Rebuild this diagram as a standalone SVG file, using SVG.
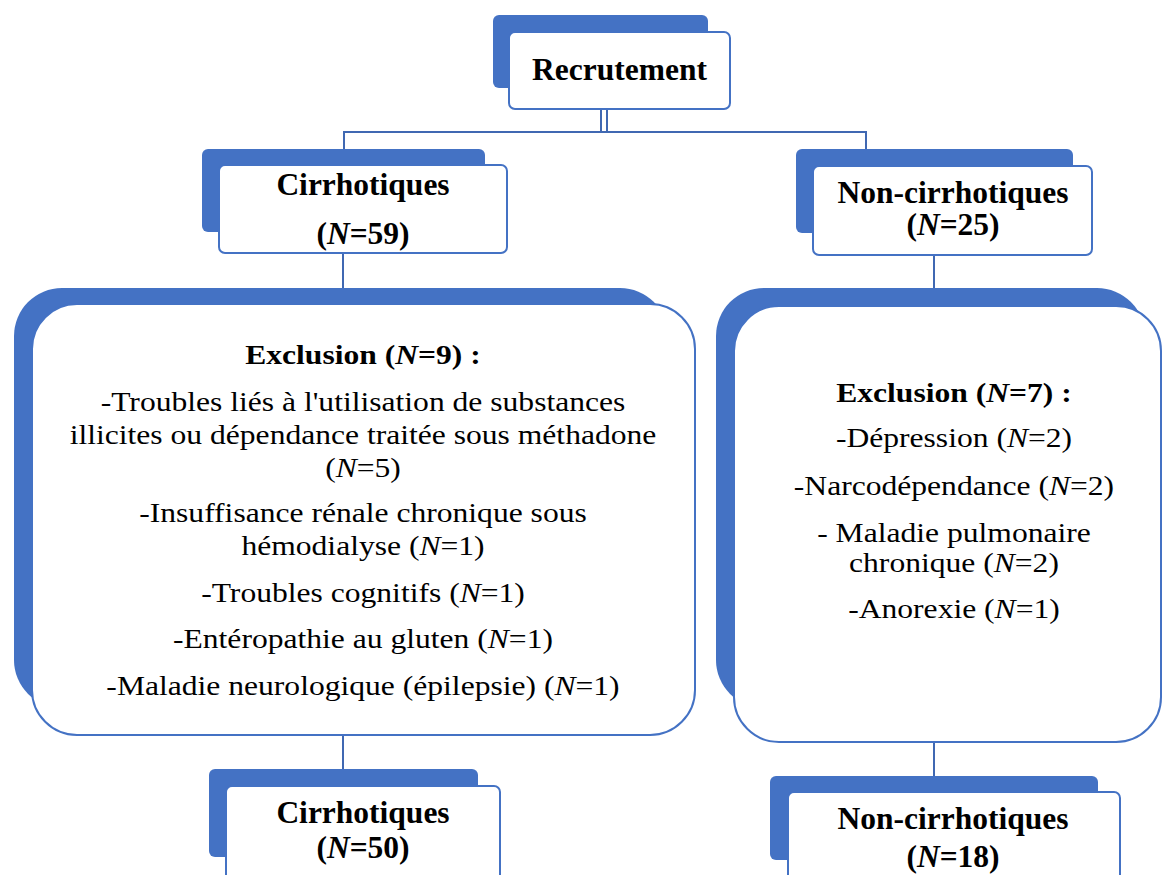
<svg xmlns="http://www.w3.org/2000/svg" width="1162" height="875" viewBox="0 0 1162 875">
  <style>
    .back { fill: #4472C4; }
    .front { fill: #FFFFFF; stroke: #4472C4; stroke-width: 2; }
    .link { stroke: #4068B2; stroke-width: 2; fill: none; }
    .title { font-family: "Liberation Serif", "Times New Roman", serif; font-weight: bold; font-size: 31.5px; fill: #000; text-anchor: middle; }
    .head { font-family: "Liberation Serif", "Times New Roman", serif; font-weight: bold; font-size: 27px; fill: #000; text-anchor: middle; }
    .body { font-family: "Liberation Serif", "Times New Roman", serif; font-size: 27px; fill: #000; text-anchor: middle; }
    .it { font-style: italic; }
  </style>

  <rect width="1162" height="875" fill="#FFFFFF"/>

  <!-- connectors -->
  <g id="connectors">
    <line class="link" x1="601" y1="109" x2="601" y2="132"/>
    <line class="link" x1="607" y1="109" x2="607" y2="132"/>
    <line class="link" x1="343" y1="132" x2="867" y2="132"/>
    <line class="link" x1="344" y1="132" x2="344" y2="149"/>
    <line class="link" x1="866" y1="132" x2="866" y2="149"/>
    <line class="link" x1="343" y1="253" x2="343" y2="288"/>
    <line class="link" x1="934" y1="255" x2="934" y2="288"/>
    <line class="link" x1="343" y1="735" x2="343" y2="769"/>
    <line class="link" x1="934" y1="742" x2="934" y2="776"/>
  </g>

  <!-- root -->
  <g id="recrutement">
    <rect class="back" x="493" y="15" width="215" height="73" rx="6"/>
    <rect class="front" x="509" y="32" width="221" height="77" rx="6"/>
    <text class="title" x="619.5" y="80">Recrutement</text>
  </g>

  <!-- first level -->
  <g id="cirrhotiques-59">
    <rect class="back" x="202" y="149" width="283" height="83" rx="6"/>
    <rect class="front" x="219" y="165" width="288" height="88" rx="6"/>
    <text class="title" x="363" y="195">Cirrhotiques</text>
    <text class="title" x="363" y="244">(<tspan class="it">N</tspan>=59)</text>
  </g>

  <g id="non-cirrhotiques-25">
    <rect class="back" x="796" y="149" width="277" height="84" rx="6"/>
    <rect class="front" x="813" y="166" width="279" height="89" rx="6"/>
    <text class="title" x="953" y="203">Non-cirrhotiques</text>
    <text class="title" x="953" y="235">(<tspan class="it">N</tspan>=25)</text>
  </g>

  <!-- exclusion boxes -->
  <g id="exclusion-cirrhotiques">
    <rect class="back" x="14" y="288" width="654" height="420" rx="48"/>
    <rect class="front" x="32" y="304" width="663" height="431" rx="45"/>
    <g transform="translate(363,0) scale(1.17,1)">
      <text class="head" x="0" y="364">Exclusion (<tspan class="it">N</tspan>=9) :</text>
      <text class="body" x="0" y="411">-Troubles liés à l'utilisation de substances</text>
      <text class="body" x="0" y="444">illicites ou dépendance traitée sous méthadone</text>
      <text class="body" x="0" y="477">(<tspan class="it">N</tspan>=5)</text>
      <text class="body" x="0" y="522">-Insuffisance rénale chronique sous</text>
      <text class="body" x="0" y="555">hémodialyse (<tspan class="it">N</tspan>=1)</text>
      <text class="body" x="0" y="602">-Troubles cognitifs (<tspan class="it">N</tspan>=1)</text>
      <text class="body" x="0" y="648">-Entéropathie au gluten (<tspan class="it">N</tspan>=1)</text>
      <text class="body" x="0" y="695">-Maladie neurologique (épilepsie) (<tspan class="it">N</tspan>=1)</text>
    </g>
  </g>

  <g id="exclusion-non-cirrhotiques">
    <rect class="back" x="716" y="288" width="429" height="420" rx="48"/>
    <rect class="front" x="734" y="306" width="427" height="436" rx="45"/>
    <g transform="translate(954,0) scale(1.17,1)">
      <text class="head" x="0" y="402">Exclusion (<tspan class="it">N</tspan>=7) :</text>
      <text class="body" x="0" y="447">-Dépression (<tspan class="it">N</tspan>=2)</text>
      <text class="body" x="0" y="495">-Narcodépendance (<tspan class="it">N</tspan>=2)</text>
      <text class="body" x="0" y="542">- Maladie pulmonaire</text>
      <text class="body" x="0" y="572">chronique (<tspan class="it">N</tspan>=2)</text>
      <text class="body" x="0" y="618">-Anorexie (<tspan class="it">N</tspan>=1)</text>
    </g>
  </g>

  <!-- final groups -->
  <g id="cirrhotiques-50">
    <rect class="back" x="209" y="769" width="269" height="88" rx="6"/>
    <rect class="front" x="226" y="786" width="274" height="120" rx="6"/>
    <text class="title" x="363" y="823">Cirrhotiques</text>
    <text class="title" x="363" y="858">(<tspan class="it">N</tspan>=50)</text>
  </g>

  <g id="non-cirrhotiques-18">
    <rect class="back" x="770" y="776" width="328" height="84" rx="6"/>
    <rect class="front" x="788" y="792" width="332" height="120" rx="6"/>
    <text class="title" x="953" y="829">Non-cirrhotiques</text>
    <text class="title" x="953" y="867">(<tspan class="it">N</tspan>=18)</text>
  </g>
</svg>
